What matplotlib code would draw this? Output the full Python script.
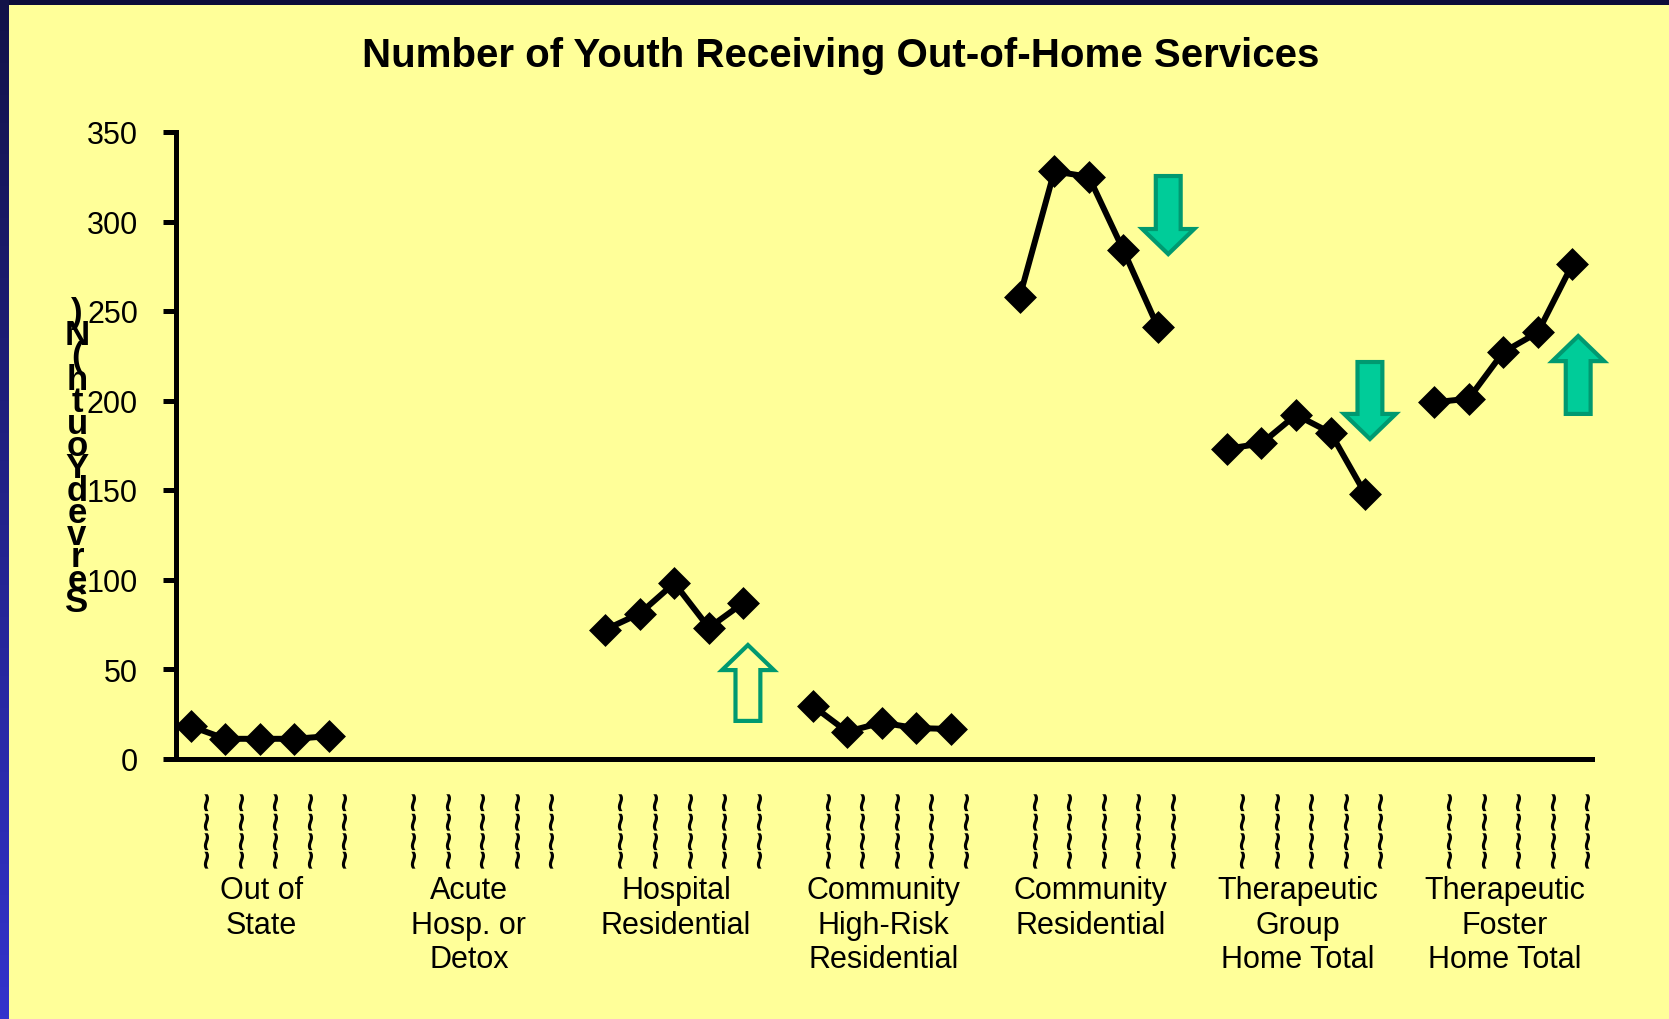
import numpy as np
import matplotlib
matplotlib.use("Agg")
import matplotlib.pyplot as plt
from matplotlib.patches import FancyArrow

plt.rcParams['font.family'] = ['Liberation Sans', 'DejaVu Sans']

# chart data
groups = ["Out of\nState", "Acute\nHosp. or\nDetox", "Hospital\nResidential",
          "Community\nHigh-Risk\nResidential", "Community\nResidential",
          "Therapeutic\nGroup\nHome Total", "Therapeutic\nFoster\nHome Total"]
out_of_state = [18, 11, 11, 11, 12.5]
acute_hosp = [np.nan] * 5
hospital_res = [72, 81, 98, 73, 87]
comm_high_risk = [29.5, 15, 20, 17, 16.5]
comm_res = [258, 328, 325, 284, 241]
ther_group = [173, 176, 192, 182, 148]
ther_foster = [199, 201, 227, 238, 276]
series = [out_of_state, acute_hosp, hospital_res, comm_high_risk,
          comm_res, ther_group, ther_foster]
yticks = [0, 50, 100, 150, 200, 250, 300, 350]
tick_text = "~~~~"
ylabel = "Served Youth (N)"

# trend arrows: (x, y_start, y_end, filled)
arrows = [(16.13, 21, 63.4, False), (28.3, 325.4, 281.8, True),
          (34.14, 221.5, 178.5, True), (40.17, 192.5, 236, True)]

W, H = 1669, 1020
fig = plt.figure(figsize=(W / 100, H / 100), dpi=100)
bg = "#FFFF99"
fig.patch.set_facecolor(bg)

# borders
top = fig.add_axes([0, 1 - 6 / H, 1, 6 / H])
top.set_facecolor("#0d0d3a")
top.set_xticks([]); top.set_yticks([])
for s in top.spines.values():
    s.set_visible(False)
left = fig.add_axes([0, 0, 9 / W, 1])
grad = np.linspace(0, 1, 256).reshape(-1, 1)
cmap = matplotlib.colors.LinearSegmentedColormap.from_list("b", ["#121248", "#3333cc"])
left.imshow(grad, aspect="auto", cmap=cmap, origin="upper")
left.axis("off")

ax = fig.add_axes([176 / W, 260.5 / H, (1592 - 176) / W, 626.5 / H])
ax.set_facecolor(bg)
slot = 6
for g, vals in enumerate(series):
    xs = np.arange(len(vals)) + g * slot
    ax.plot(xs, vals, color="black", lw=4.3, marker="D", ms=14.5, mew=2.5,
            mec="black", solid_joinstyle="round", clip_on=False)

ax.set_xlim(-0.43, 40.57)
ax.set_ylim(0, 350)
ax.set_yticks(yticks)
ax.tick_params(axis="y", direction="out", length=9.4, width=3.6, pad=18, labelsize=22)
for s in ["top", "right"]:
    ax.spines[s].set_visible(False)
for s in ["left", "bottom"]:
    ax.spines[s].set_linewidth(3.6)

tick_pos = [g * slot + i + 0.5 for g in range(len(groups)) for i in range(5)]
ax.set_xticks(tick_pos)
ax.set_xticklabels([tick_text] * len(tick_pos), rotation=90, fontsize=24,
                   fontweight="bold")
ax.tick_params(axis="x", length=0, pad=22)

for g, name in enumerate(groups):
    ax.text(g * slot + 2.05, -0.186, name, transform=ax.get_xaxis_transform(),
            ha="center", va="top", fontsize=22, linespacing=1.2)

for x, y0, y1, filled in arrows:
    a = FancyArrow(x, y0, 0, y1 - y0, width=0.72, head_width=1.5, head_length=14,
                   length_includes_head=True,
                   facecolor="#00CC99" if filled else bg, edgecolor="#009970",
                   lw=3, joinstyle="miter", clip_on=False)
    ax.add_patch(a)

fig.text(841 / W, 1 - 56 / H, "Number of Youth Receiving Out-of-Home Services",
         ha="center", va="center", fontsize=29, fontweight="bold")

# garbled stacked axis label as in the source
stack = "\n".join(ch for ch in ylabel[::-1] if ch != " ")
fig.text(77 / W, 1 - 297 / H, stack, ha="center", va="top", fontsize=25,
         fontweight="bold", linespacing=0.585)

fig.savefig("out.png", dpi=100, facecolor=bg)
